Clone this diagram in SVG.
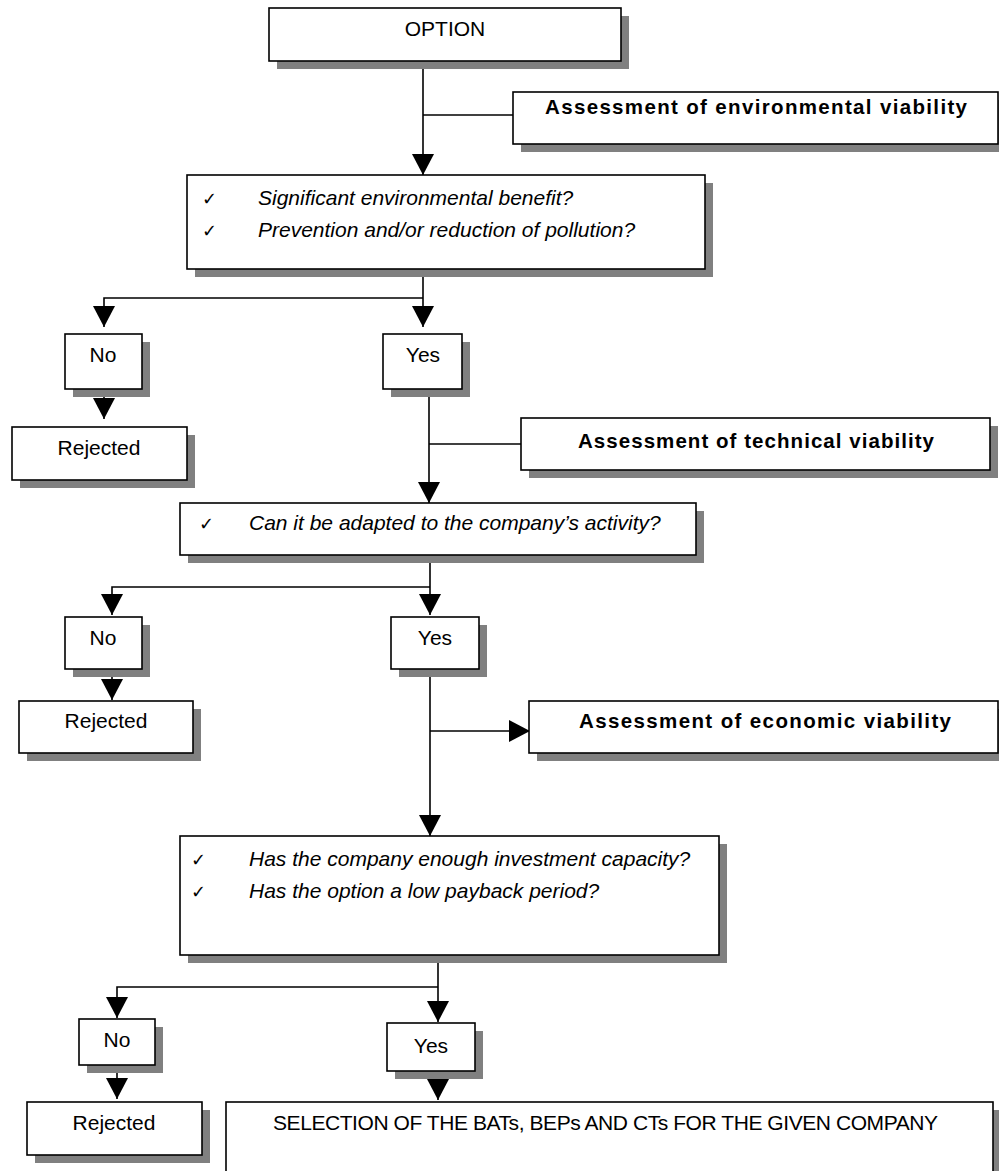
<svg xmlns="http://www.w3.org/2000/svg" width="999" height="1171" viewBox="0 0 999 1171">
<style>
.box{fill:#fff;stroke:#000;stroke-width:1.6}
.sh{fill:#808080}
.t{font-family:"Liberation Sans",Arial,sans-serif;font-size:21px;fill:#000}
.b{font-family:"Liberation Sans",Arial,sans-serif;font-size:20.5px;font-weight:bold;fill:#000}
.i{font-family:"Liberation Sans",Arial,sans-serif;font-size:21px;font-style:italic;fill:#000}
.ck{font-family:"DejaVu Sans",sans-serif;font-size:18px;fill:#000}
.c line,.c polyline{stroke:#000;stroke-width:1.6;fill:none}
</style>
<defs>
<marker id="ah" markerWidth="21" markerHeight="22" refX="21" refY="11" orient="auto" markerUnits="userSpaceOnUse" viewBox="0 0 21 22">
<path d="M0,0 L21,11 L0,22 z" fill="#000"/>
</marker>
</defs>

<g id="connectors" class="c">
<line x1="423" y1="61" x2="423" y2="175" marker-end="url(#ah)"/>
<line x1="423" y1="115" x2="513" y2="115"/>
<line x1="423" y1="269" x2="423" y2="327" marker-end="url(#ah)"/>
<polyline points="423,298 104,298 104,327" marker-end="url(#ah)"/>
<line x1="104" y1="389" x2="104" y2="419" marker-end="url(#ah)"/>
<line x1="429" y1="389" x2="429" y2="503" marker-end="url(#ah)"/>
<line x1="429" y1="444" x2="521" y2="444"/>
<line x1="430" y1="555" x2="430" y2="615" marker-end="url(#ah)"/>
<polyline points="430,587 112,587 112,615" marker-end="url(#ah)"/>
<line x1="112" y1="669" x2="112" y2="700" marker-end="url(#ah)"/>
<line x1="430" y1="669" x2="430" y2="836" marker-end="url(#ah)"/>
<line x1="430" y1="731" x2="530" y2="731" marker-end="url(#ah)"/>
<line x1="438" y1="955" x2="438" y2="1022" marker-end="url(#ah)"/>
<polyline points="438,987 117,987 117,1018" marker-end="url(#ah)"/>
<line x1="117" y1="1065" x2="117" y2="1099" marker-end="url(#ah)"/>
<line x1="438" y1="1071" x2="438" y2="1100" marker-end="url(#ah)"/>
</g>

<g id="option">
<rect class="sh" x="277" y="16" width="352" height="53"/>
<rect class="box" x="269" y="8" width="352" height="53"/>
<text class="t" x="445" y="36" text-anchor="middle">OPTION</text>
</g>

<g id="env-assessment">
<rect class="sh" x="521" y="100" width="485" height="52"/>
<rect class="box" x="513" y="92" width="485" height="52"/>
<text class="b" x="756" y="114" text-anchor="middle" textLength="422" lengthAdjust="spacing">Assessment of environmental viability</text>
</g>

<g id="env-questions">
<rect class="sh" x="195" y="183" width="518" height="94"/>
<rect class="box" x="187" y="175" width="518" height="94"/>
<text class="ck" x="202" y="205">✓</text>
<text class="i" x="258" y="205">Significant environmental benefit?</text>
<text class="ck" x="202" y="237">✓</text>
<text class="i" x="258" y="237">Prevention and/or reduction of pollution?</text>
</g>

<g id="no-1">
<rect class="sh" x="73" y="342" width="77" height="55"/>
<rect class="box" x="65" y="334" width="77" height="55"/>
<text class="t" x="103" y="362" text-anchor="middle">No</text>
</g>

<g id="rejected-1">
<rect class="sh" x="20" y="435" width="175" height="53"/>
<rect class="box" x="12" y="427" width="175" height="53"/>
<text class="t" x="99" y="455" text-anchor="middle">Rejected</text>
</g>

<g id="yes-1">
<rect class="sh" x="391" y="342" width="79" height="55"/>
<rect class="box" x="383" y="334" width="79" height="55"/>
<text class="t" x="423" y="362" text-anchor="middle">Yes</text>
</g>

<g id="tech-assessment">
<rect class="sh" x="529" y="426" width="469" height="52"/>
<rect class="box" x="521" y="418" width="469" height="52"/>
<text class="b" x="756" y="448" text-anchor="middle" textLength="356" lengthAdjust="spacing">Assessment of technical viability</text>
</g>

<g id="tech-question">
<rect class="sh" x="188" y="511" width="516" height="52"/>
<rect class="box" x="180" y="503" width="516" height="52"/>
<text class="ck" x="199" y="530">✓</text>
<text class="i" x="249" y="530">Can it be adapted to the company’s activity?</text>
</g>

<g id="no-2">
<rect class="sh" x="73" y="625" width="77" height="52"/>
<rect class="box" x="65" y="617" width="77" height="52"/>
<text class="t" x="103" y="645" text-anchor="middle">No</text>
</g>

<g id="rejected-2">
<rect class="sh" x="27" y="709" width="174" height="52"/>
<rect class="box" x="19" y="701" width="174" height="52"/>
<text class="t" x="106" y="728" text-anchor="middle">Rejected</text>
</g>

<g id="yes-2">
<rect class="sh" x="399" y="625" width="88" height="52"/>
<rect class="box" x="391" y="617" width="88" height="52"/>
<text class="t" x="435" y="645" text-anchor="middle">Yes</text>
</g>

<g id="econ-assessment">
<rect class="sh" x="537" y="709" width="470" height="52"/>
<rect class="box" x="529" y="701" width="469" height="52"/>
<text class="b" x="765" y="728" text-anchor="middle" textLength="372" lengthAdjust="spacing">Assessment of economic viability</text>
</g>

<g id="econ-questions">
<rect class="sh" x="188" y="844" width="539" height="119"/>
<rect class="box" x="180" y="836" width="539" height="119"/>
<text class="ck" x="191" y="866">✓</text>
<text class="i" x="249" y="866">Has the company enough investment capacity?</text>
<text class="ck" x="191" y="898">✓</text>
<text class="i" x="249" y="898">Has the option a low payback period?</text>
</g>

<g id="no-3">
<rect class="sh" x="87" y="1027" width="76" height="46"/>
<rect class="box" x="79" y="1019" width="76" height="46"/>
<text class="t" x="117" y="1047" text-anchor="middle">No</text>
</g>

<g id="rejected-3">
<rect class="sh" x="35" y="1110" width="175" height="53"/>
<rect class="box" x="27" y="1102" width="175" height="53"/>
<text class="t" x="114" y="1130" text-anchor="middle">Rejected</text>
</g>

<g id="yes-3">
<rect class="sh" x="395" y="1031" width="88" height="48"/>
<rect class="box" x="387" y="1023" width="88" height="48"/>
<text class="t" x="431" y="1053" text-anchor="middle">Yes</text>
</g>

<g id="selection">
<rect class="sh" x="234" y="1110" width="767" height="80"/>
<rect class="box" x="226" y="1102" width="767" height="80"/>
<text class="t" x="273" y="1130" textLength="665" lengthAdjust="spacing">SELECTION OF THE BATs, BEPs AND CTs FOR THE GIVEN COMPANY</text>
</g>
</svg>
